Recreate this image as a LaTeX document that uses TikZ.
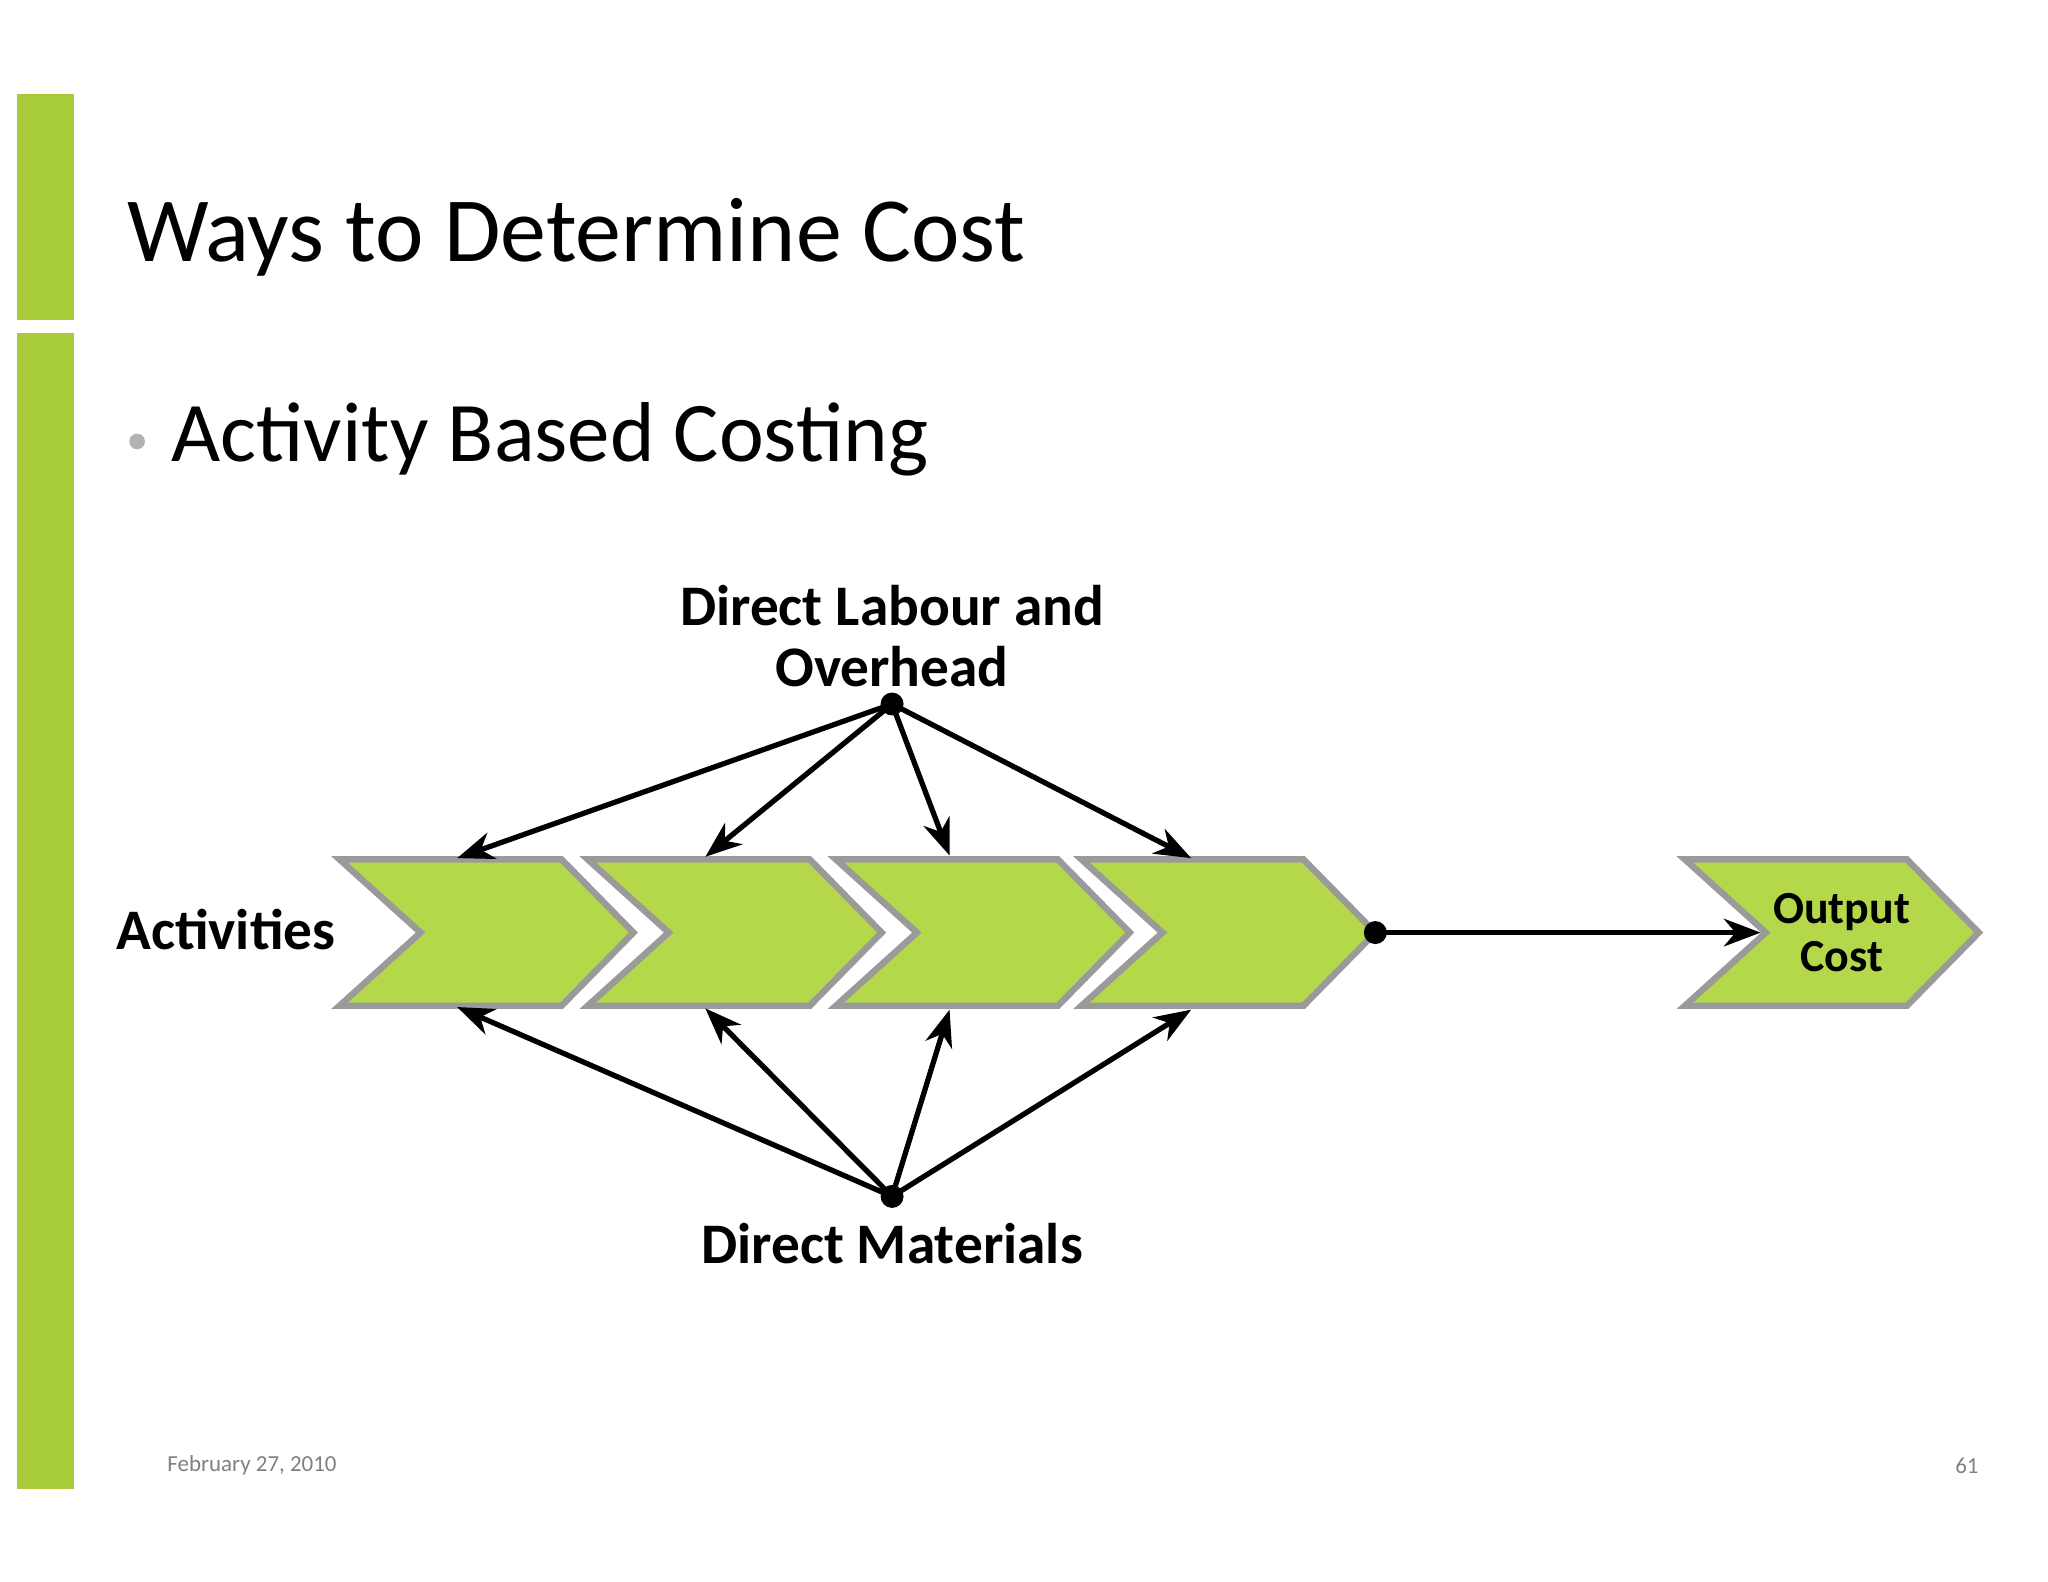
\documentclass[tikz,border=0pt]{standalone}
\usepackage{fontspec}
\setmainfont{Carlito}
\usetikzlibrary{arrows.meta}
\definecolor{bar}{HTML}{A8CB3A}
\definecolor{chev}{HTML}{B4D84A}
\definecolor{chevline}{HTML}{9A9A9A}
\begin{document}
\begin{tikzpicture}[x=0.02cm,y=-0.02cm,
  chevron/.style={fill=chev,draw=chevline,line width=2.8pt,line join=miter},
  conn/.style={line width=2.3pt,-{Stealth[length=16pt,width=12pt,inset=5pt]}},
  dot/.style={circle,fill=black,inner sep=0pt,minimum size=10pt},
  lbl/.style={font=\bfseries\fontsize{25}{30}\selectfont,align=center}]
\useasboundingbox (0,0) rectangle (1568,1211);
\fill[white] (0,0) rectangle (1568,1211);
\fill[bar] (13,72) rectangle (57,245);
\fill[bar] (13,255) rectangle (57,1140);
\node[anchor=base west,inner sep=0pt,font=\fontsize{40}{48}\selectfont] (title) at (97,200) {Ways to Determine Cost};
\fill[gray!60] (105,338) circle (6);
\node[anchor=base west,inner sep=0pt,font=\fontsize{37}{44}\selectfont] (bul) at (131,353) {Activity Based Costing};
\foreach \x in {260,450,640,828,1290}{
  \draw[chevron] (\x,658) -- (\x+170,658) -- (\x+225,714) -- (\x+170,770) -- (\x,770) -- (\x+62,714) -- cycle;
}
\node[dot] (top) at (683,539) {};
\node[dot] (bot) at (683,916) {};
\node[dot] (rt) at (1053,714) {};
\coordinate (t1) at (350,657); \coordinate (t2) at (540,656);
\coordinate (t3) at (727,655); \coordinate (t4) at (912,657);
\coordinate (b1) at (350,771); \coordinate (b2) at (540,772);
\coordinate (b3) at (727,773); \coordinate (b4) at (912,773);
\coordinate (oc) at (1348,714);
\foreach \t in {t1,t2,t3,t4}{\draw[conn] (top.center) -- (\t);}
\foreach \t in {b1,b2,b3,b4}{\draw[conn] (bot.center) -- (\t);}
\draw[conn] (rt.center) -- (oc);
\node[lbl] (dl) at (683,487) {Direct Labour and\\[-3pt]Overhead};
\node[lbl] (dm) at (683,952) {Direct Materials};
\node[lbl] (act) at (173,712) {Activities};
\node[font=\bfseries\fontsize{20}{24}\selectfont,align=center] (out) at (1410,714) {Output\\[-3pt]Cost};
\node[anchor=west,text=gray,font=\fontsize{10}{12}\selectfont] (date) at (122,1122) {February 27, 2010};
\node[anchor=east,text=gray,font=\fontsize{10}{12}\selectfont] (pg) at (1521,1122) {61};
\end{tikzpicture}
\end{document}
